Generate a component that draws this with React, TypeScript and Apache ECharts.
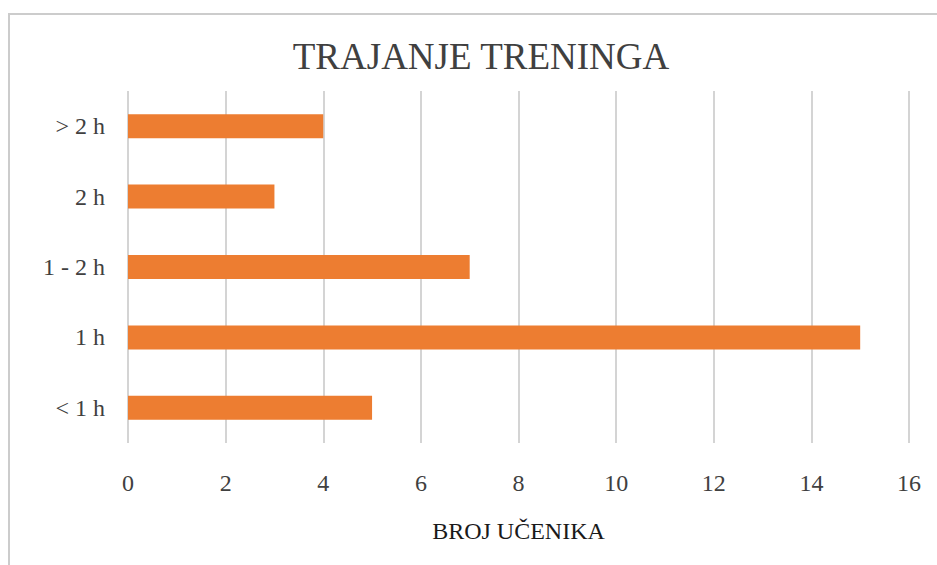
import React, { useEffect, useRef } from "react";
import * as echarts from "echarts";

const titleText = "TRAJANJE TRENINGA";
const axisName = "BROJ UČENIKA";
const categories = ["< 1 h", "1 h", "1 - 2 h", "2 h", "> 2 h"];
const values = [5, 15, 7, 3, 4];
const xMin = 0;
const xMax = 16;
const xInterval = 2;

const FONT = "Liberation Serif";

export default function App() {
  const ref = useRef<HTMLDivElement>(null);
  useEffect(() => {
    document.body.style.margin = "0";
    if (!ref.current) return;
    const chart = echarts.init(ref.current, null, { renderer: "svg" });
    chart.setOption({
      animation: false,
      backgroundColor: "#ffffff",
      title: {
        text: titleText,
        left: 476,
        top: 33,
        textAlign: "center",
        textStyle: { fontFamily: FONT, fontSize: 37, fontWeight: "normal", color: "#404040" },
      },
      graphic: [
        {
          type: "rect",
          shape: { x: 9, y: 14, width: 1200, height: 1200 },
          style: { fill: "none", stroke: "#cccccc", lineWidth: 2 },
          silent: true,
        },
      ],
      grid: { left: 128, right: 28, top: 91, bottom: 122, containLabel: false },
      xAxis: {
        type: "value",
        min: xMin,
        max: xMax,
        interval: xInterval,
        axisLine: { show: false },
        axisTick: { show: false },
        splitLine: { show: true, lineStyle: { color: "#d4d4d4", width: 2 } },
        axisLabel: { fontFamily: FONT, fontSize: 24, color: "#404040", margin: 28 },
        name: axisName,
        nameLocation: "middle",
        nameGap: 76,
        nameTextStyle: { fontFamily: FONT, fontSize: 24, color: "#1a1a1a" },
      },
      yAxis: {
        type: "category",
        data: categories,
        axisLine: { show: false },
        axisTick: { show: false },
        splitLine: { show: false },
        axisLabel: { fontFamily: FONT, fontSize: 24, color: "#404040", margin: 23 },
      },
      series: [
        {
          type: "bar",
          data: values,
          barWidth: 24,
          itemStyle: { color: "#ED7D31" },
        },
      ],
    });
    return () => chart.dispose();
  }, []);
  return <div ref={ref} style={{ width: 937, height: 565 }} />;
}
